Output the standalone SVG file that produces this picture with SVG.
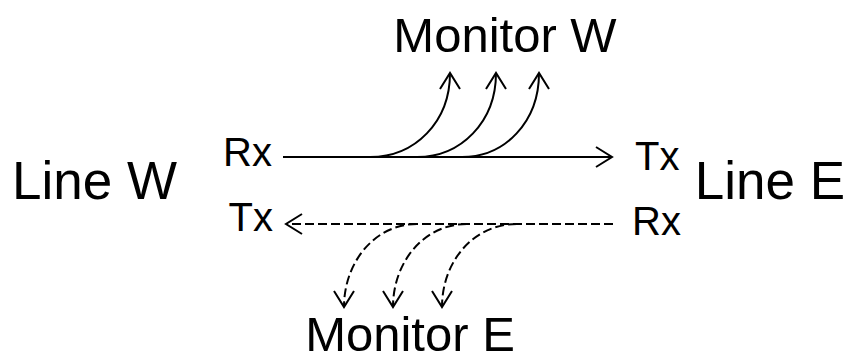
<svg xmlns="http://www.w3.org/2000/svg" width="852" height="363" viewBox="0 0 852 363">
<style>
text{font-family:"Liberation Sans",Arial,sans-serif;fill:#000}
.big{font-size:53px}
.mon{font-size:49px}
.port{font-size:40px}
.ln{fill:none;stroke:#000;stroke-width:2}
.dash{stroke-dasharray:9 4}
</style>
<defs>
<marker id="chev" markerUnits="userSpaceOnUse" markerWidth="40" markerHeight="40" viewBox="-20 -20 40 40" refX="0" refY="0" orient="auto" overflow="visible">
<path d="M-16,-10 L0,0 L-16,10" fill="none" stroke="#000" stroke-width="2" stroke-dasharray="none"/>
</marker>
</defs>
<rect width="852" height="363" fill="#fff"/>
<g id="line-w"><text class="big" x="12" y="199">Line W</text></g>
<g id="line-e"><text class="big" x="845" y="199" text-anchor="end">Line E</text></g>
<g id="rx-w"><text class="port" x="272" y="166" text-anchor="end">Rx</text></g>
<g id="tx-w"><text class="port" x="273" y="231" text-anchor="end">Tx</text></g>
<g id="tx-e"><text class="port" x="635" y="170">Tx</text></g>
<g id="rx-e"><text class="port" x="632" y="235">Rx</text></g>
<g id="monitor-w"><text class="mon" x="505" y="52" text-anchor="middle">Monitor W</text></g>
<g id="monitor-e"><text class="mon" x="410" y="351" text-anchor="middle">Monitor E</text></g>
<g id="connectors">
<path class="ln" d="M283,157 L612,157" marker-end="url(#chev)"/>
<path class="ln" d="M370,157 C415,157 450,122 450,73" marker-end="url(#chev)"/>
<path class="ln" d="M417,157 C461,157 496,122 496,73" marker-end="url(#chev)"/>
<path class="ln" d="M462,157 C505,157 539,122 539,73" marker-end="url(#chev)"/>
<path class="ln dash" d="M613,224 L286,224" marker-end="url(#chev)"/>
<path class="ln dash" d="M417,224 C375,224 344,262 344,307" marker-end="url(#chev)"/>
<path class="ln dash" d="M467,224 C424,224 393,262 393,307" marker-end="url(#chev)"/>
<path class="ln dash" d="M517,224 C473,224 442,262 442,307" marker-end="url(#chev)"/>
</g>
</svg>
